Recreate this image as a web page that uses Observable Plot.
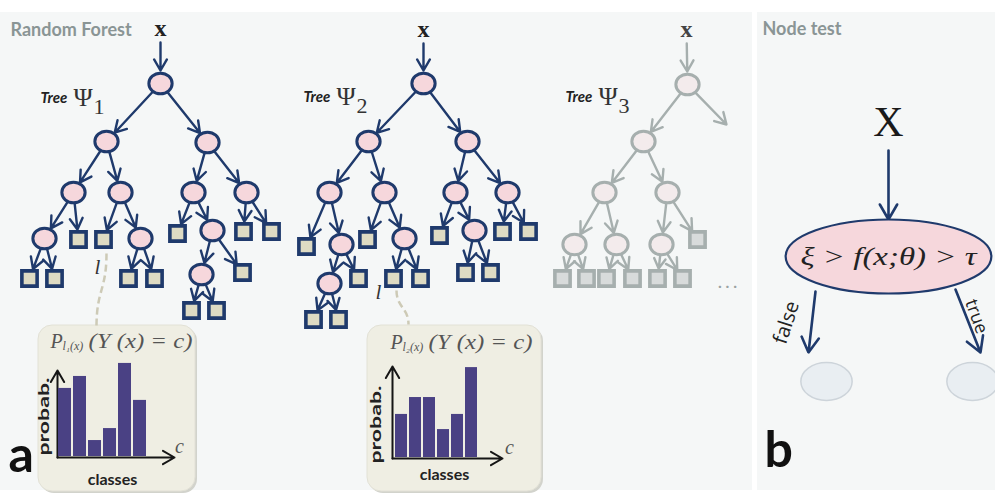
<!DOCTYPE html>
<html><head><meta charset="utf-8">
<script src="https://cdn.jsdelivr.net/npm/d3@7"></script>
<script src="https://cdn.jsdelivr.net/npm/@observablehq/plot@0.6"></script>
<style>
html,body{margin:0;padding:0;background:#fff;overflow:hidden}
#wrap{position:relative;width:995px;height:494px;overflow:hidden}
#wrap svg{position:absolute}
</style>
</head><body><div id="wrap"></div>
<script>
// ---------------- data ----------------
// tree nodes: position in diagram units, kind, parent index
const tree1 = [
  {x:160,y:83,kind:"node",parent:null},
  {x:106,y:141,kind:"node",parent:0},
  {x:207,y:142,kind:"node",parent:0},
  {x:73,y:192,kind:"node",parent:1},
  {x:120,y:192,kind:"node",parent:1},
  {x:193,y:192,kind:"node",parent:2},
  {x:246,y:192,kind:"node",parent:2},
  {x:44,y:238,kind:"node",parent:3},
  {x:78,y:239,kind:"leaf",parent:3},
  {x:103,y:239,kind:"leaf",parent:4},
  {x:140,y:238,kind:"node",parent:4},
  {x:177,y:233,kind:"leaf",parent:5},
  {x:212,y:230,kind:"node",parent:5},
  {x:243,y:231,kind:"leaf",parent:6},
  {x:271,y:231,kind:"leaf",parent:6},
  {x:29,y:278,kind:"leaf",parent:7},
  {x:54,y:278,kind:"leaf",parent:7},
  {x:128,y:278,kind:"leaf",parent:10},
  {x:154,y:278,kind:"leaf",parent:10},
  {x:201,y:274,kind:"node",parent:12},
  {x:242,y:272,kind:"leaf",parent:12},
  {x:191,y:310,kind:"leaf",parent:19},
  {x:216,y:310,kind:"leaf",parent:19}
];
const tree2 = [
  {x:423,y:83,kind:"node",parent:null},
  {x:368,y:141,kind:"node",parent:0},
  {x:467,y:141,kind:"node",parent:0},
  {x:329,y:192,kind:"node",parent:1},
  {x:384,y:192,kind:"node",parent:1},
  {x:455,y:192,kind:"node",parent:2},
  {x:507,y:192,kind:"node",parent:2},
  {x:306,y:246,kind:"leaf",parent:3},
  {x:341,y:244,kind:"node",parent:3},
  {x:367,y:239,kind:"leaf",parent:4},
  {x:404,y:238,kind:"node",parent:4},
  {x:439,y:235,kind:"leaf",parent:5},
  {x:474,y:230,kind:"node",parent:5},
  {x:502,y:231,kind:"leaf",parent:6},
  {x:528,y:231,kind:"leaf",parent:6},
  {x:329,y:283,kind:"node",parent:8},
  {x:358,y:278,kind:"leaf",parent:8},
  {x:393,y:278,kind:"leaf",parent:10},
  {x:420,y:278,kind:"leaf",parent:10},
  {x:465,y:272,kind:"leaf",parent:12},
  {x:490,y:272,kind:"leaf",parent:12},
  {x:313,y:319,kind:"leaf",parent:15},
  {x:338,y:319,kind:"leaf",parent:15}
];
const tree3 = [
  {x:687,y:84,kind:"node",parent:null},
  {x:643,y:141,kind:"node",parent:0},
  {x:604,y:192,kind:"node",parent:1},
  {x:667,y:192,kind:"node",parent:1},
  {x:574,y:244,kind:"node",parent:2},
  {x:616,y:244,kind:"node",parent:2},
  {x:661,y:244,kind:"node",parent:3},
  {x:697,y:239,kind:"leaf",parent:3},
  {x:562,y:278,kind:"leaf",parent:4},
  {x:586,y:278,kind:"leaf",parent:4},
  {x:606,y:278,kind:"leaf",parent:5},
  {x:632,y:278,kind:"leaf",parent:5},
  {x:657,y:278,kind:"leaf",parent:6},
  {x:682,y:278,kind:"leaf",parent:6},
  {x:726,y:124,kind:"stub",parent:0}
];
const inputs = [
  {label:"x", x:160, y:28, tree:tree1},
  {label:"x", x:423, y:29, tree:tree2},
  {label:"x", x:686, y:29, tree:tree3}
];
const treeNames = [
  {name:"Tree", sym:"Ψ", idx:"1", x:40, y:98},
  {name:"Tree", sym:"Ψ", idx:"2", x:303, y:97},
  {name:"Tree", sym:"Ψ", idx:"3", x:565, y:97}
];
const leafMarks = [ {label:"l", x:97, y:267}, {label:"l", x:378, y:292} ];
const leafLinks = [
  {x1:106, y1:253, x2:96, y2:326},
  {x1:396, y1:290, x2:408, y2:324}
];
const panels = [ {x1:0, x2:752, y1:12, y2:490}, {x1:757, x2:995, y1:12, y2:490} ];
const panelTitles = [ {label:"Random Forest", x:10, y:30}, {label:"Node test", x:762, y:29} ];
const panelLetters = [ {label:"a", x:8, y:455}, {label:"b", x:764, y:450} ];

// histogram boxes
const boxes = [ {x1:38, x2:195, y1:325, y2:491}, {x1:367, x2:541, y1:325, y2:491} ];
const histTitles = [
  {P:"P", sub:"l₁(x)", rest:"(Y (x) = c)", x:50, y:341},
  {P:"P", sub:"l₂(x)", rest:"(Y (x) = c)", x:390, y:342}
];
const histAxes = [
  {x1:57, y1:457, x2:57, y2:370}, {x1:57, y1:457, x2:174, y2:457},
  {x1:392, y1:458, x2:392, y2:366}, {x1:392, y1:458, x2:502, y2:458}
];
const axisC = [ {label:"c", x:179, y:446}, {label:"c", x:509, y:447} ];
const probabLabels = [ {label:"probab.", x:43, y:416}, {label:"probab.", x:375, y:424} ];
const classLabels = [ {label:"classes", x:112, y:479}, {label:"classes", x:444, y:474} ];
const classes = [1, 2, 3, 4, 5, 6];
const hist1 = [0.199, 0.233, 0.051, 0.085, 0.270, 0.165];
const hist2 = [0.128, 0.176, 0.176, 0.085, 0.128, 0.261];

// node test panel
const nodeTest = [ {x:888, y:256, label:"ξ > f(x;θ) > τ"} ];
const nodeInput = [ {label:"X", x:888, y:122} ];
const testArrows = [
  {x1:888, y1:150, x2:888, y2:219},
  {x1:815, y1:291, x2:808, y2:352},
  {x1:955, y1:289, x2:980, y2:352}
];
const testChildren = [ {x:826, y:381}, {x:972, y:381} ];
const branchLabels = [
  {label:"false", x:786, y:322},
  {label:"true", x:976, y:316}
];
const dots3 = [ {label:". . .", x:727, y:282} ];

// ---------------- helpers ----------------
function ellipse(aspect) {
  return {draw(ctx, size) {
    const ry = Math.sqrt(size / Math.PI), rx = ry * aspect, k = 0.5523;
    ctx.moveTo(rx, 0);
    ctx.bezierCurveTo(rx, k*ry, k*rx, ry, 0, ry);
    ctx.bezierCurveTo(-k*rx, ry, -rx, k*ry, -rx, 0);
    ctx.bezierCurveTo(-rx, -k*ry, -k*rx, -ry, 0, -ry);
    ctx.bezierCurveTo(k*rx, -ry, rx, -k*ry, rx, 0);
    ctx.closePath();
  }};
}
function edgesOf(tree) {
  return tree.filter(d => d.parent !== null).map(d => ({
    x1: tree[d.parent].x, y1: tree[d.parent].y, x2: d.x, y2: d.y, kind: d.kind
  }));
}
const darkNodes = tree1.concat(tree2);
const darkEdges = edgesOf(tree1).concat(edgesOf(tree2));
const greyEdges = edgesOf(tree3);
const inputArrows = inputs.map(d => ({x1:d.x, y1:d.y, x2:d.tree[0].x, y2:d.tree[0].y}));

const NAVY = "#1f3a6c", PINK = "#f6d7dc", LEAF = "#dedbc3";
const GREY = "#a6afae", PINK3 = "#f3ebec", LEAF3 = "#d8dbdb";
const SERIF = "'Liberation Serif', 'DejaVu Serif', serif";
const SANS = "Lato, 'Open Sans', sans-serif";
const nodeSym = ellipse(1.13);

const edgeMarks = (edges, stroke, sw) => [
  Plot.arrow(edges.filter(d => d.kind === "node"), {x1:"x1", y1:"y1", x2:"x2", y2:"y2", stroke, strokeWidth:sw, insetStart:11, insetEnd:12, headLength:8}),
  Plot.arrow(edges.filter(d => d.kind === "leaf"), {x1:"x1", y1:"y1", x2:"x2", y2:"y2", stroke, strokeWidth:sw, insetStart:11, insetEnd:10, headLength:8}),
  Plot.arrow(edges.filter(d => d.kind === "stub"), {x1:"x1", y1:"y1", x2:"x2", y2:"y2", stroke, strokeWidth:sw, insetStart:11, insetEnd:0, headLength:8})
];

// ---------------- main diagram ----------------
const main = Plot.plot({
  width: 995, height: 494, margin: 0,
  x: {domain: [0, 995], range: [0, 995]},
  y: {domain: [0, 494], range: [0, 494]},
  axis: null,
  style: {background: "#fff", overflow: "hidden"},
  marks: [
    Plot.rect(panels, {x1:"x1", x2:"x2", y1:"y1", y2:"y2", fill:"#f5f7f7"}),
    Plot.rect(boxes, {x1:"x1", x2:"x2", y1:"y1", y2:"y2", fill:"#d2d3cc", rx:14, dx:2, dy:2}),
    Plot.rect(boxes, {x1:"x1", x2:"x2", y1:"y1", y2:"y2", fill:"#efeee3", stroke:"#e2e1d6", rx:14}),
    Plot.link(leafLinks, {x1:"x1", y1:"y1", x2:"x2", y2:"y2", curve:"bump-y", stroke:"#cdcab6", strokeWidth:2.5, strokeDasharray:"7,4"}),
    Plot.arrow(histAxes, {x1:"x1", y1:"y1", x2:"x2", y2:"y2", stroke:"#151515", strokeWidth:2, headLength:10}),
    // input arrows
    Plot.arrow(inputArrows.slice(0, 2), {x1:"x1", y1:"y1", x2:"x2", y2:"y2", stroke:NAVY, strokeWidth:2.4, insetStart:14, insetEnd:13, headLength:8}),
    Plot.arrow(inputArrows.slice(2), {x1:"x1", y1:"y1", x2:"x2", y2:"y2", stroke:GREY, strokeWidth:2.4, insetStart:14, insetEnd:13, headLength:8}),
    ...edgeMarks(darkEdges, NAVY, 2.4),
    ...edgeMarks(greyEdges, GREY, 2.4),
    Plot.dot(darkNodes.filter(d => d.kind === "node"), {x:"x", y:"y", r:10.3, symbol:nodeSym, fill:PINK, stroke:NAVY, strokeWidth:3}),
    Plot.dot(darkNodes.filter(d => d.kind === "leaf"), {x:"x", y:"y", r:8.6, symbol:"square", fill:LEAF, stroke:NAVY, strokeWidth:3.6}),
    Plot.dot(tree3.filter(d => d.kind === "node"), {x:"x", y:"y", r:10.3, symbol:nodeSym, fill:PINK3, stroke:GREY, strokeWidth:3}),
    Plot.dot(tree3.filter(d => d.kind === "leaf"), {x:"x", y:"y", r:8.6, symbol:"square", fill:LEAF3, stroke:GREY, strokeWidth:3.6}),
    // node test panel
    Plot.arrow(testArrows, {x1:"x1", y1:"y1", x2:"x2", y2:"y2", stroke:NAVY, strokeWidth:2.6, headLength:10}),
    Plot.dot(nodeTest, {x:"x", y:"y", r:37, symbol:ellipse(2.78), fill:PINK, stroke:NAVY, strokeWidth:2.2}),
    Plot.dot(testChildren, {x:"x", y:"y", r:19, symbol:ellipse(1.35), fill:"#e9eef2", stroke:"#cdd4da", strokeWidth:1.5}),
    Plot.text(nodeTest, {x:"x", y:"y", text:"label", fontFamily:SERIF, fontStyle:"italic", fontSize:26, fill:"#222"}),
    Plot.text(nodeInput, {x:"x", y:"y", text:"label", fontFamily:SERIF, fontSize:42, fill:"#1a1a1a"}),
    Plot.text(branchLabels.slice(0,1), {x:"x", y:"y", text:"label", rotate:-72, fontFamily:"'Open Sans', sans-serif", fontSize:20, fill:"#222"}),
    Plot.text(branchLabels.slice(1), {x:"x", y:"y", text:"label", rotate:70, fontFamily:"'Open Sans', sans-serif", fontSize:18, fill:"#222"}),
    // texts
    Plot.text(panelTitles, {x:"x", y:"y", text:"label", textAnchor:"start", fontFamily:SANS, fontWeight:"bold", fontSize:18, fill:"#8a9595"}),
    Plot.text(panelLetters, {x:"x", y:"y", text:"label", textAnchor:"start", fontFamily:SANS, fontWeight:"bold", fontSize:50, fill:"#111"}),
    Plot.text(inputs.slice(0,2), {x:"x", y:"y", text:"label", fontFamily:SERIF, fontWeight:"bold", fontSize:24, fill:"#222"}),
    Plot.text(inputs.slice(2), {x:"x", y:"y", text:"label", fontFamily:SERIF, fontWeight:"bold", fontSize:24, fill:"#444"}),
    Plot.text(treeNames, {x:"x", y:"y", text:"name", textAnchor:"start", fontFamily:SANS, fontWeight:"bold", fontStyle:"italic", fontSize:15, fill:"#222"}),
    Plot.text(treeNames, {x:"x", y:"y", text:"sym", textAnchor:"start", dx:33, dy:-1, fontFamily:SERIF, fontSize:26, fill:"#333"}),
    Plot.text(treeNames, {x:"x", y:"y", text:"idx", textAnchor:"start", dx:53, dy:8, fontFamily:SERIF, fontSize:22, fill:"#333"}),
    Plot.text(leafMarks, {x:"x", y:"y", text:"label", fontFamily:SERIF, fontStyle:"italic", fontSize:21, fill:"#333"}),
    Plot.text(dots3, {x:"x", y:"y", text:"label", fontFamily:SANS, fontWeight:"bold", fontSize:16, fill:"#9aa2a2"}),
    // histogram labels
    Plot.text(histTitles, {x:"x", y:"y", text:"P", textAnchor:"start", fontFamily:SERIF, fontStyle:"italic", fontSize:20, fill:"#555"}),
    Plot.text(histTitles, {x:"x", y:"y", text:"sub", textAnchor:"start", dx:12, dy:5, fontFamily:SERIF, fontStyle:"italic", fontSize:12, fill:"#555"}),
    Plot.text(histTitles, {x:"x", y:"y", text:"rest", textAnchor:"start", dx:38, fontFamily:SERIF, fontStyle:"italic", fontSize:20, fill:"#555"}),
    Plot.text(axisC, {x:"x", y:"y", text:"label", fontFamily:SERIF, fontStyle:"italic", fontSize:20, fill:"#555"}),
    Plot.text(probabLabels, {x:"x", y:"y", text:"label", rotate:-90, fontFamily:SANS, fontWeight:"bold", fontSize:16, fill:"#222"}),
    Plot.text(classLabels, {x:"x", y:"y", text:"label", fontFamily:SANS, fontWeight:"bold", fontSize:16, fill:"#222"})
  ]
});
main.style.left = "0px"; main.style.top = "0px";
document.getElementById("wrap").appendChild(main);

// stretch a few labels to their measured lengths
const sel = d3.select(main).selectAll("text");
sel.filter(function() { return this.textContent === "probab."; }).attr("textLength", 78).attr("lengthAdjust", "spacingAndGlyphs");
sel.filter(function() { return this.textContent === "ξ > f(x;θ) > τ"; }).attr("textLength", 176).attr("lengthAdjust", "spacingAndGlyphs");
sel.filter(function() { return this.textContent === "(Y (x) = c)"; }).attr("textLength", 104).attr("lengthAdjust", "spacingAndGlyphs");

// ---------------- histograms ----------------
function histogram(values, left, top, width) {
  const data = classes.map((c, i) => ({c, p: values[i]}));
  const svg = Plot.plot({
    width, height: 100, margin: 0,
    x: {type: "band", domain: classes, padding: 0},
    y: {domain: [0, 0.284]},
    axis: null,
    style: {background: "transparent", overflow: "visible"},
    marks: [Plot.barY(data, {x: "c", y: "p", fill: "#4a4184", inset: 1})]
  });
  svg.style.left = left + "px"; svg.style.top = top + "px";
  document.getElementById("wrap").appendChild(svg);
}
histogram(hist1, 57, 357, 90);
histogram(hist2, 392, 358, 88);
</script>
</body></html>
